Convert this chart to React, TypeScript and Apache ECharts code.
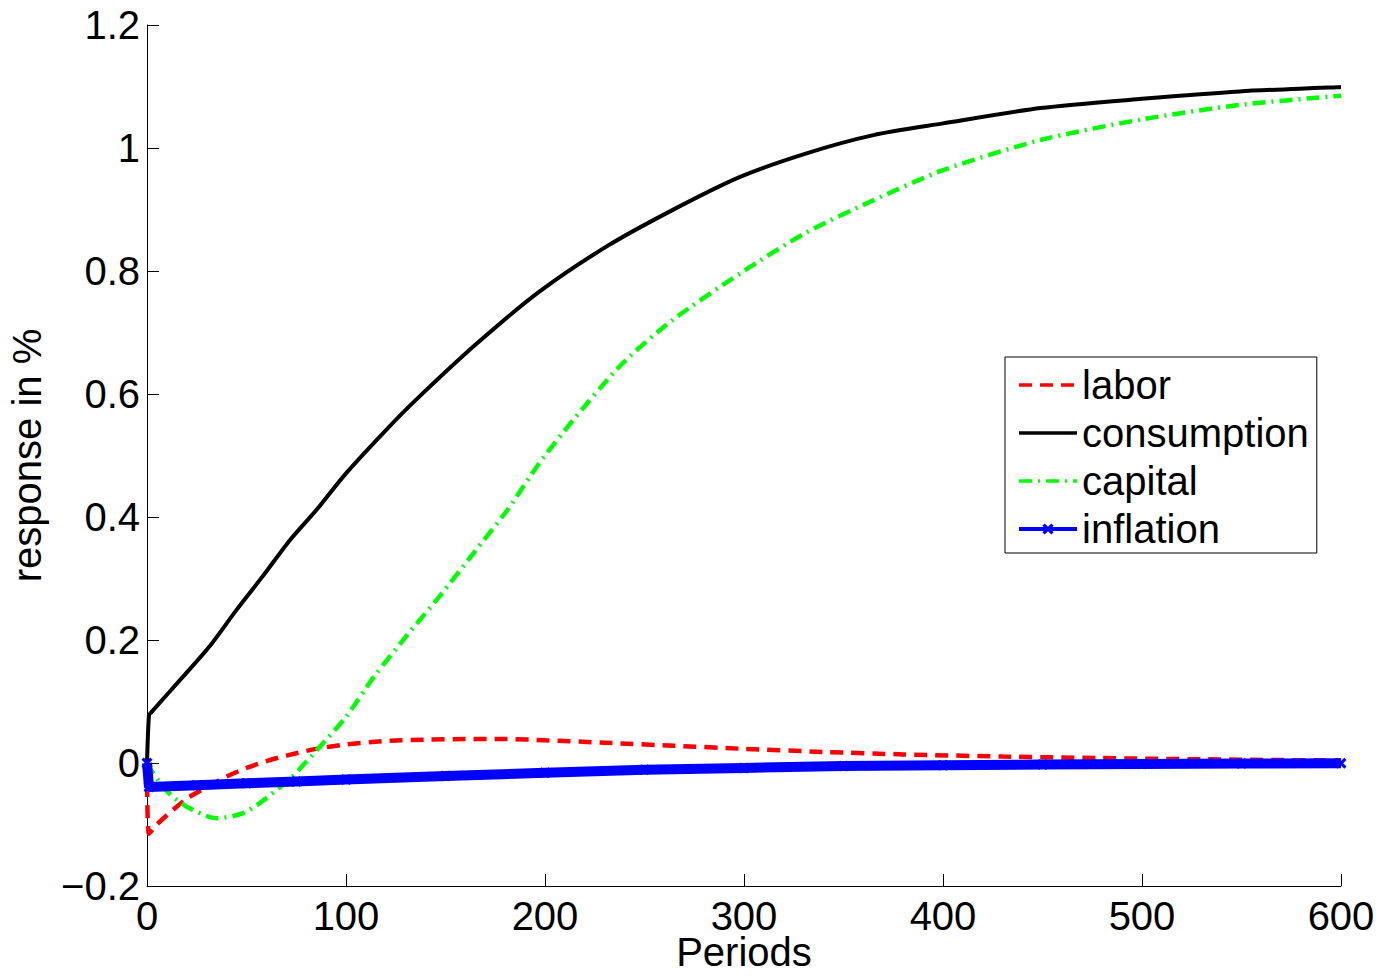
import React, { useEffect, useRef } from "react";
import * as echarts from "echarts";

const xTicks = [0, 100, 200, 300, 400, 500, 600];
const yTicks = [-0.2, 0, 0.2, 0.4, 0.6, 0.8, 1, 1.2];

const laborX = [0, 1, 5, 10, 20, 30, 40, 50, 60, 70, 85, 100, 120, 140, 160, 180, 200, 230, 265, 300, 340, 380, 430, 480, 530, 600];
const laborY = [0, -0.115, -0.1, -0.085, -0.058, -0.039, -0.022, -0.008, 0.003, 0.012, 0.023, 0.03, 0.036, 0.038, 0.039, 0.039, 0.037, 0.033, 0.028, 0.023, 0.018, 0.014, 0.0105, 0.008, 0.006, 0.004];

const consX = [0, 1, 2, 18, 32, 45, 58, 72, 85, 100, 120, 135, 165, 197, 231, 264, 298, 331, 365, 400, 449, 500, 549, 600];
const consY = [0, 0.078, 0.082, 0.14, 0.192, 0.249, 0.303, 0.363, 0.411, 0.471, 0.541, 0.59, 0.68, 0.766, 0.84, 0.899, 0.953, 0.991, 1.021, 1.04, 1.065, 1.08, 1.092, 1.099];

const capX = [0, 2, 11, 20, 35, 48, 58, 73, 87, 100, 114, 130, 147, 164, 181, 197, 214, 239, 264, 298, 331, 365, 400, 449, 499, 549, 600];
const capY = [0, -0.012, -0.049, -0.071, -0.09, -0.082, -0.062, -0.022, 0.027, 0.075, 0.14, 0.205, 0.271, 0.341, 0.411, 0.487, 0.557, 0.65, 0.72, 0.796, 0.862, 0.915, 0.964, 1.013, 1.046, 1.07, 1.085];

const inflX = [0, 1, 25, 50, 75, 100, 150, 200, 250, 300, 350, 400, 450, 500, 550, 600];
const inflY = [0, -0.039, -0.036, -0.033, -0.03, -0.027, -0.021, -0.016, -0.011, -0.008, -0.005, -0.0035, -0.0025, -0.0017, -0.001, -0.0005];

const seriesNames = ["labor", "consumption", "capital", "inflation"];

const FONT = "Liberation Sans, Arial, Helvetica, sans-serif";
const FS = 40;
const XMARK = "path://M0,2L2,0L5,3L8,0L10,2L7,5L10,8L8,10L5,7L2,10L0,8L3,5Z";

function pairs(xs: number[], ys: number[]) {
  return xs.map((x, i) => [x, ys[i]]);
}

export default function App() {
  const ref = useRef<HTMLDivElement>(null);
  useEffect(() => {
    if (!ref.current) return;
    const chart = echarts.init(ref.current, null, { renderer: "svg" });
    const fmtY = (v: number) => {
      const r = Math.round(v * 10) / 10;
      if (Math.abs(r) < 1e-9) return "0";
      return r < 0 ? "\u2212" + String(Math.abs(r)) : String(r);
    };
    const hidden = { color: "rgba(0,0,0,0)", borderColor: "rgba(0,0,0,0)", borderWidth: 0 };
    chart.setOption({
      animation: false,
      backgroundColor: "#ffffff",
      grid: {
        left: 147,
        right: 41,
        top: 25,
        bottom: 90,
        containLabel: false,
        outerBoundsMode: "none",
      },
      legend: {
        orient: "vertical",
        left: 1005,
        top: 357,
        padding: [4, 8, 0, 12],
        itemGap: 0,
        itemWidth: 58,
        itemHeight: 14,
        borderColor: "#000",
        borderWidth: 1,
        backgroundColor: "#fff",
        textStyle: { fontFamily: FONT, fontSize: FS, color: "#000", lineHeight: 48 },
        data: [
          { name: seriesNames[0], itemStyle: hidden, lineStyle: { width: 3.5 } },
          { name: seriesNames[1], itemStyle: hidden, lineStyle: { width: 3.5 } },
          { name: seriesNames[2], itemStyle: hidden, lineStyle: { width: 3.5 } },
          { name: seriesNames[3], lineStyle: { width: 4 }, itemStyle: { color: "#0000ff" } },
        ],
      },
      xAxis: {
        type: "value",
        min: xTicks[0],
        max: xTicks[xTicks.length - 1],
        interval: 100,
        name: "Periods",
        nameLocation: "middle",
        nameGap: 46,
        nameMoveOverlap: false,
        nameTextStyle: { fontFamily: FONT, fontSize: FS, color: "#000", lineHeight: 40 },
        axisLine: { show: true, onZero: false, lineStyle: { color: "#000", width: 1 } },
        axisTick: { show: true, inside: true, length: 12, lineStyle: { color: "#000" } },
        axisLabel: { fontFamily: FONT, fontSize: FS, color: "#000", margin: 10 },
        splitLine: { show: false },
      },
      yAxis: {
        type: "value",
        min: yTicks[0],
        max: yTicks[yTicks.length - 1],
        interval: 0.2,
        name: "response in %",
        nameLocation: "middle",
        nameGap: 100,
        nameMoveOverlap: false,
        nameTextStyle: { fontFamily: FONT, fontSize: FS, color: "#000" },
        axisLine: { show: true, onZero: false, lineStyle: { color: "#000", width: 1 } },
        axisTick: { show: true, inside: true, length: 12, lineStyle: { color: "#000" } },
        axisLabel: { fontFamily: FONT, fontSize: FS, color: "#000", margin: 7, formatter: fmtY },
        splitLine: { show: false },
      },
      series: [
        {
          name: seriesNames[0],
          type: "line",
          data: pairs(laborX, laborY),
          symbol: "none",
          smooth: 0.25,
          color: "#ff0000",
          lineStyle: { color: "#ff0000", width: 4.5, type: [13, 8] },
          z: 2,
        },
        {
          name: seriesNames[1],
          type: "line",
          data: pairs(consX, consY),
          symbol: "none",
          smooth: 0.25,
          color: "#000000",
          lineStyle: { color: "#000000", width: 4 },
          z: 3,
        },
        {
          name: seriesNames[2],
          type: "line",
          data: pairs(capX, capY),
          symbol: "none",
          smooth: 0.25,
          color: "#00ff00",
          lineStyle: { color: "#00ff00", width: 4.5, type: [13, 6, 2, 6] },
          z: 2,
        },
        {
          name: seriesNames[3],
          type: "line",
          data: pairs(inflX, inflY),
          symbol: XMARK,
          symbolSize: 11,
          showSymbol: true,
          color: "#0000ff",
          itemStyle: { color: "#0000ff" },
          lineStyle: { color: "#0000ff", width: 10 },
          z: 4,
        },
      ],
    });
    return () => chart.dispose();
  }, []);
  return (
    <div
      ref={ref}
      style={{ position: "fixed", left: 0, top: 0, width: 1382, height: 976, background: "#fff" }}
    />
  );
}
